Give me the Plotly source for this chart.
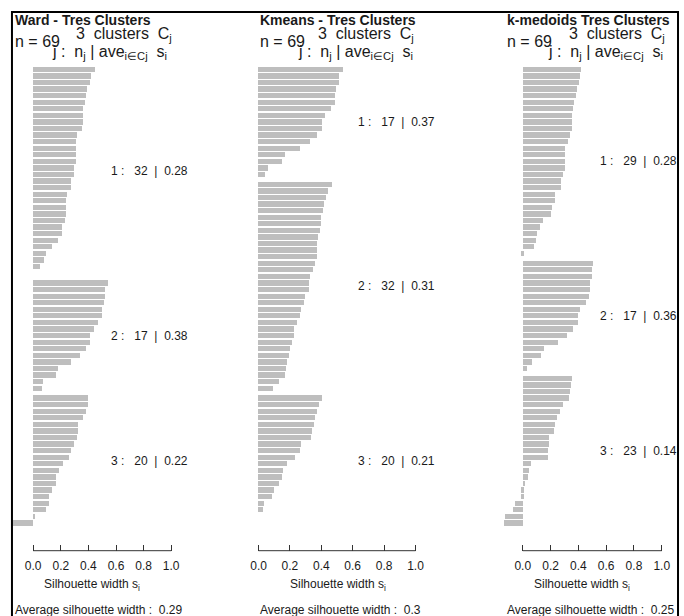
import plotly.graph_objects as go

W, H = 684, 616

# ---------------- data (silhouette widths, sorted within cluster) ----------------
ward_c1 = [0.448, 0.422, 0.414, 0.390, 0.383, 0.373, 0.364, 0.364, 0.364, 0.357,
           0.316, 0.308, 0.308, 0.308, 0.308, 0.292, 0.292, 0.277, 0.277, 0.243,
           0.236, 0.236, 0.236, 0.229, 0.212, 0.205, 0.178, 0.137, 0.096, 0.075,
           0.048, 0.0]
ward_c2 = [0.545, 0.520, 0.520, 0.513, 0.496, 0.496, 0.472, 0.439, 0.414, 0.414,
           0.383, 0.342, 0.277, 0.178, 0.164, 0.072, 0.065]
ward_c3 = [0.398, 0.398, 0.381, 0.364, 0.323, 0.323, 0.316, 0.292, 0.277, 0.260,
           0.219, 0.188, 0.164, 0.164, 0.137, 0.113, 0.113, 0.096, 0.014, -0.145]

kmeans_c1 = [0.542, 0.513, 0.513, 0.498, 0.492, 0.492, 0.462, 0.428, 0.407, 0.407,
             0.371, 0.328, 0.265, 0.172, 0.150, 0.064, 0.042]
kmeans_c2 = [0.470, 0.443, 0.434, 0.419, 0.413, 0.398, 0.398, 0.392, 0.383, 0.371,
             0.371, 0.371, 0.362, 0.350, 0.328, 0.320, 0.320, 0.299, 0.292, 0.271,
             0.265, 0.244, 0.229, 0.229, 0.214, 0.201, 0.193, 0.186, 0.178, 0.172,
             0.129, 0.093]
kmeans_c3 = [0.407, 0.386, 0.371, 0.362, 0.356, 0.341, 0.335, 0.271, 0.265, 0.235,
             0.186, 0.157, 0.150, 0.129, 0.100, 0.085, 0.036, 0.028, 0.0, 0.0]

kmedoids_c1 = [0.419, 0.409, 0.402, 0.385, 0.378, 0.368, 0.361, 0.354, 0.354, 0.354,
               0.337, 0.321, 0.304, 0.297, 0.297, 0.297, 0.287, 0.273, 0.273, 0.232,
               0.232, 0.208, 0.201, 0.144, 0.120, 0.096, 0.089, 0.079, -0.014]
kmedoids_c2 = [0.505, 0.495, 0.495, 0.481, 0.481, 0.474, 0.450, 0.409, 0.395, 0.395,
               0.361, 0.313, 0.249, 0.153, 0.127, 0.065, 0.024]
kmedoids_c3 = [0.352, 0.344, 0.337, 0.330, 0.289, 0.266, 0.242, 0.225, 0.218, 0.184,
               0.184, 0.177, 0.177, 0.055, 0.041, 0.031, 0.007, -0.014, -0.014, -0.057,
               -0.074, -0.129, -0.136]

titles = ["Ward - Tres Clusters", "Kmeans - Tres Clusters", "k-medoids Tres Clusters"]
cluster_avgs = [["0.28", "0.38", "0.22"], ["0.37", "0.31", "0.21"], ["0.28", "0.36", "0.14"]]
overall_avgs = ["0.29", "0.3", "0.25"]
n_total = 69
tick_vals = [0.0, 0.2, 0.4, 0.6, 0.8, 1.0]
tick_text = ["0.0", "0.2", "0.4", "0.6", "0.8", "1.0"]

panels = [
    [ward_c1, ward_c2, ward_c3],
    [kmeans_c1, kmeans_c2, kmeans_c3],
    [kmedoids_c1, kmedoids_c2, kmedoids_c3],
]

# ---------------- layout geometry (pixels) ----------------
FONT = "Arial, Liberation Sans, sans-serif"
TXT = "#1a1a1a"
BAR = "#BEBEBE"

zero_px = [32.3, 258.3, 523.3]
one_px = [170.7, 415.7, 662.7]
dom_px = [(5, 178), (251, 423), (497, 670)]
left_txt = [12, 258, 505]
row1_right = [174, 416, 668]
row2_right = [168, 415, 666]
clab_left = [108, 356, 599]
xlab_center = [91, 337.5, 582.5]

first_center = 69.3
pitch = 6.575
top_px, axis_px = 48, 550.7


def px(x):
    return x / W


def py(y):
    return 1 - y / H


yr_top = (top_px - first_center) / pitch
yr_bot = (axis_px - first_center) / pitch

fig = go.Figure()
annotations = []
shapes = []
NB = "\u00a0"


def note(text, x, y, xanchor, size, bold=False):
    return dict(text=("<b>" + text + "</b>") if bold else text,
                x=px(x), y=py(y), xref="paper", yref="paper",
                xanchor=xanchor, yanchor="middle", showarrow=False,
                font=dict(family=FONT, size=size, color=TXT))


for p, clusters in enumerate(panels):
    sfx = "" if p == 0 else str(p + 1)
    xs, ys, mids = [], [], []
    k = 0
    for ci, vals in enumerate(clusters):
        pos = [k + i + 0.5 * ci for i in range(len(vals))]
        xs += vals
        ys += pos
        mids.append(sum(pos) / len(pos))
        k += len(vals)
    fig.add_trace(go.Bar(
        x=xs, y=ys, orientation="h", width=0.8,
        marker=dict(color=BAR, line=dict(width=0)),
        xaxis="x" + sfx, yaxis="y" + sfx, showlegend=False, hoverinfo="x",
    ))
    scale = (one_px[p] - zero_px[p])
    d0, d1 = dom_px[p]
    xr = [(d0 - zero_px[p]) / scale, (d1 - zero_px[p]) / scale]
    fig.update_layout(**{
        "xaxis" + sfx: dict(
            domain=[px(d0), px(d1)], range=xr, anchor="y" + sfx,
            tickvals=tick_vals, ticktext=tick_text, ticks="inside", ticklen=6,
            tickcolor="#333", tickwidth=1, showline=False, showgrid=False,
            zeroline=False, tickfont=dict(family=FONT, size=12, color=TXT),
            ticklabelstandoff=6, fixedrange=True,
        ),
        "yaxis" + sfx: dict(
            domain=[py(axis_px), py(top_px)], range=[yr_bot, yr_top],
            anchor="x" + sfx, visible=False, fixedrange=True,
        ),
    })
    shapes.append(dict(type="line", xref="x" + sfx, yref="paper", x0=0, x1=1,
                       y0=py(axis_px), y1=py(axis_px), line=dict(color="#333", width=1)))
    annotations.append(note(titles[p], left_txt[p], 20, "left", 14, bold=True))
    annotations.append(note(f"n = {n_total}", left_txt[p], 41, "left", 16))
    annotations.append(note(f"{len(clusters)}{NB}{NB}clusters{NB}{NB}C<sub>j</sub>",
                            row1_right[p], 34, "right", 16))
    annotations.append(note(f"j{NB}:{NB}{NB}n<sub>j</sub>{NB}|{NB}ave<sub>i\u2208Cj</sub>{NB}{NB}s<sub>i</sub>",
                            row2_right[p], 53, "right", 16))
    for ci, vals in enumerate(clusters):
        lab = f"{ci + 1}{NB}:{NB}{NB}{NB}{len(vals)}{NB}{NB}|{NB}{NB}{cluster_avgs[p][ci]}"
        annotations.append(note(lab, clab_left[p], first_center + pitch * mids[ci], "left", 12))
    annotations.append(note("Silhouette width s<sub>i</sub>", xlab_center[p], 585, "center", 12))
    annotations.append(note(f"Average silhouette width :{NB}{NB}{overall_avgs[p]}",
                            left_txt[p], 610, "left", 12))

shapes.append(dict(type="rect", xref="paper", yref="paper", x0=px(11), x1=px(679),
                   y0=-0.1, y1=py(12), line=dict(color="black", width=2)))

fig.update_layout(
    width=W, height=H, margin=dict(l=0, r=0, t=0, b=0),
    paper_bgcolor="white", plot_bgcolor="white",
    annotations=annotations, shapes=shapes, bargap=0,
)

fig.write_html("out.html", config={"displayModeBar": False},
               post_script="document.body.style.margin='0px';document.body.style.overflow='hidden';")
